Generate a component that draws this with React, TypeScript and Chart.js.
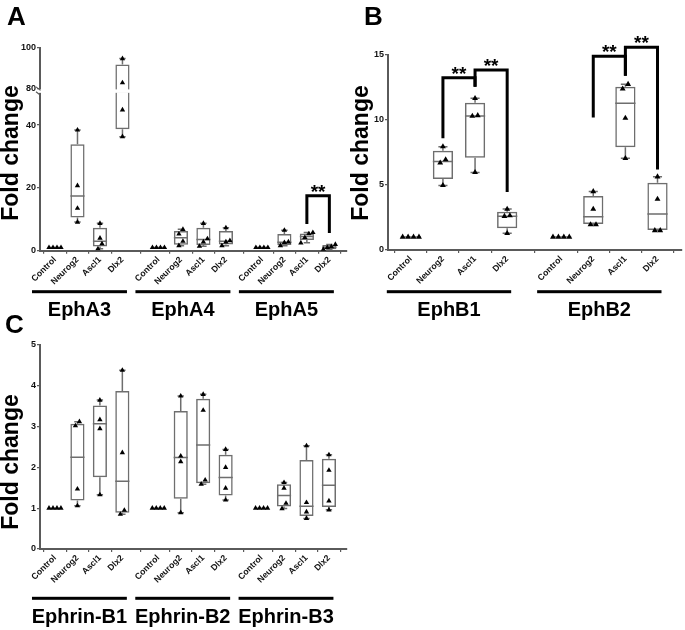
import React, { useEffect, useRef } from "react";
import { Chart, registerables } from "chart.js";
Chart.register(...registerables);

const FONT = "'Liberation Sans', Arial, Helvetica, sans-serif";
const BOX_COLOR = "#6e6e6e";
const AXIS_COLOR = "#5a5a5a";
const TEXT = "#111";

const CONDITIONS = ["Control", "Neurog2", "Ascl1", "Dlx2"];

// ---------- Panel A ----------
const A_GENES = ["EphA3", "EphA4", "EphA5"];
const A_Y_TICKS = [0, 20, 40, 80, 100];
// points per gene, per condition
const A_POINTS = [
  [[1, 1, 1, 1], [38.4, 20.7, 13.5, 9.1], [8.7, 4.0, 2.2, 0.6], [94.7, 83.0, 44.8, 36.3]],
  [[1, 1, 1, 1], [6.8, 5.3, 3.0, 1.6], [8.7, 3.8, 2.8, 1.4], [7.3, 3.2, 2.8, 1.6]],
  [[1, 1, 1, 1], [6.5, 2.8, 2.6, 1.6], [5.8, 5.4, 4.2, 2.5], [2.0, 1.3, 1.0, 0.4]],
];
// boxes: [min, q1, median, q3, max]
const A_BOXES = [
  [[1, 1, 1, 1, 1], [9.1, 10.6, 17.4, 33.9, 38.4], [0.6, 1.3, 3.0, 7.3, 8.7], [36.3, 38.7, 63.9, 91.8, 94.7]],
  [[1, 1, 1, 1, 1], [1.6, 1.9, 4.1, 6.3, 6.8], [1.4, 1.8, 3.6, 7.3, 8.7], [1.6, 2.0, 3.0, 6.3, 7.3]],
  [[1, 1, 1, 1, 1], [1.6, 1.8, 2.7, 5.3, 6.5], [2.5, 3.4, 4.5, 5.5, 5.8], [0.4, 0.5, 1.1, 1.8, 2.0]],
];
// significance brackets: gene, from condition, to condition, top, leg ends
const A_SIG = [{ gene: 2, from: 2, to: 3, top: 17.5, fromEnd: 8.5, toEnd: 5.6, label: "**" }];

// broken axis for panel A: 0-50 linear, gap, 80-100 compressed
const A_BREAK_LOW = 50;
const A_BREAK_HIGH = 80;
const A_UPPER_START = 51.5;
const A_UPPER_SCALE = 0.656;
function brkA(v: number) {
  if (v <= A_BREAK_LOW) return v;
  if (v >= A_BREAK_HIGH) return A_UPPER_START + (v - A_BREAK_HIGH) * A_UPPER_SCALE;
  return A_BREAK_LOW + ((v - A_BREAK_LOW) / (A_BREAK_HIGH - A_BREAK_LOW)) * (A_UPPER_START - A_BREAK_LOW);
}

// ---------- Panel B ----------
const B_GENES = ["EphB1", "EphB2"];
const B_Y_TICKS = [0, 5, 10, 15];
const B_POINTS = [
  [[1, 1, 1, 1], [7.95, 6.95, 6.7, 4.97], [11.67, 10.35, 10.3, 5.97], [3.15, 2.65, 2.6, 1.28]],
  [[1, 1, 1, 1], [4.5, 3.15, 1.95, 1.95], [12.75, 12.4, 10.15, 7.05], [5.64, 3.92, 1.5, 1.5]],
];
const B_BOXES = [
  [[1, 1, 1, 1, 1], [4.97, 5.46, 6.8, 7.64, 7.95], [5.97, 7.1, 10.3, 11.33, 11.67], [1.28, 1.67, 2.6, 2.95, 3.15]],
  [[1, 1, 1, 1, 1], [1.95, 2.0, 2.56, 4.15, 4.5], [7.05, 7.9, 11.28, 12.56, 12.75], [1.5, 1.54, 2.77, 5.18, 5.64]],
];
const B_SIG = [
  { gene: 0, from: 1, to: 2, top: 13.25, fromEnd: 8.6, toEnd: 12.56, label: "**" },
  { gene: 0, from: 2, to: 3, top: 13.85, fromEnd: 12.56, toEnd: 4.46, label: "**" },
  { gene: 1, from: 1, to: 2, top: 14.9, fromEnd: 10.2, toEnd: 13.4, label: "**" },
  { gene: 1, from: 2, to: 3, top: 15.6, fromEnd: 13.4, toEnd: 6.2, label: "**" },
];

// ---------- Panel C ----------
const C_GENES = ["Ephrin-B1", "Ephrin-B2", "Ephrin-B3"];
const C_Y_TICKS = [0, 1, 2, 3, 4, 5];
const C_POINTS = [
  [[1, 1, 1, 1], [3.12, 3.02, 1.47, 1.06], [3.65, 3.17, 2.95, 1.33], [4.38, 2.36, 0.95, 0.85]],
  [[1, 1, 1, 1], [3.75, 2.28, 2.14, 0.89], [3.79, 3.4, 1.69, 1.59], [2.44, 2.0, 1.49, 1.2]],
  [[1, 1, 1, 1], [1.63, 1.49, 1.12, 0.99], [2.53, 1.14, 0.91, 0.75], [2.31, 1.93, 1.18, 0.96]],
];
const C_BOXES = [
  [[1, 1, 1, 1, 1], [1.06, 1.19, 2.25, 3.07, 3.12], [1.33, 1.76, 3.07, 3.52, 3.65], [0.85, 0.89, 1.66, 3.87, 4.38]],
  [[1, 1, 1, 1, 1], [0.89, 1.23, 2.24, 3.38, 3.75], [1.59, 1.61, 2.55, 3.68, 3.79], [1.2, 1.31, 1.75, 2.31, 2.44]],
  [[1, 1, 1, 1, 1], [0.99, 1.04, 1.31, 1.59, 1.63], [0.75, 0.81, 1.05, 2.18, 2.53], [0.96, 1.03, 1.56, 2.21, 2.31]],
];
const C_SIG: Sig[] = [];

type Sig = { gene: number; from: number; to: number; top: number; fromEnd: number; toEnd: number; label: string };

type Panel = {
  id: string;
  letter: string;
  letterPos: [number, number];
  pos: [number, number];
  size: [number, number];
  area: { l: number; r: number; t: number; b: number };
  genes: string[];
  points: number[][][];
  boxes: number[][][];
  sig: Sig[];
  stride: number;
  xMin: number;
  xMax: number;
  yTicks: number[];
  tf: (v: number) => number;
  titlePos: [number, number];
  ulDy: number;
  labelDy: number;
  ulPre: number;
  ulPost: number;
  triR: number;
  spread: number;
  broken?: boolean;
};

const ident = (v: number) => v;

const PANELS: Panel[] = [
  {
    id: "A", letter: "A", letterPos: [7, 25], pos: [0, 0], size: [350, 330],
    area: { l: 40, r: 347, t: 47.7, b: 250.7 },
    genes: A_GENES, points: A_POINTS, boxes: A_BOXES, sig: A_SIG,
    stride: 4.6, xMin: -0.667, xMax: 12.98, yTicks: A_Y_TICKS, tf: brkA,
    titlePos: [11.5, 153], ulDy: 41, labelDy: 65, ulPre: 23, ulPost: 4.5,
    triR: 3.1, spread: 4, broken: true,
  },
  {
    id: "B", letter: "B", letterPos: [14, 25], pos: [350, 0], size: [335, 330],
    area: { l: 38, r: 335, t: 55, b: 250 },
    genes: B_GENES, points: B_POINTS, boxes: B_BOXES, sig: B_SIG,
    stride: 4.68, xMin: -0.71, xMax: 8.43, yTicks: B_Y_TICKS, tf: ident,
    titlePos: [12, 153], ulDy: 41.7, labelDy: 66, ulPre: 24, ulPost: 4,
    triR: 3.4, spread: 5.5,
  },
  {
    id: "C", letter: "C", letterPos: [5, 33], pos: [0, 300], size: [350, 330],
    area: { l: 40, r: 347.7, t: 45, b: 249 },
    genes: C_GENES, points: C_POINTS, boxes: C_BOXES, sig: C_SIG,
    stride: 4.6, xMin: -0.667, xMax: 13.0, yTicks: C_Y_TICKS, tf: ident,
    titlePos: [11.5, 162], ulDy: 49.3, labelDy: 73.5, ulPre: 23, ulPost: 4.5,
    triR: 3.1, spread: 4,
  },
];

function jitterPx(vals: number[], pxPerUnit: number, spacing: number): number[] {
  const idx = vals.map((_, i) => i).sort((a, b) => vals[a] - vals[b]);
  const off = new Array(vals.length).fill(0);
  let cluster: number[] = [idx[0]];
  const flush = () => {
    const n = cluster.length;
    cluster.forEach((k, j) => (off[k] = (j - (n - 1) / 2) * spacing));
  };
  for (let i = 1; i < idx.length; i++) {
    if ((vals[idx[i]] - vals[idx[i - 1]]) * pxPerUnit < 5.5) cluster.push(idx[i]);
    else {
      flush();
      cluster = [idx[i]];
    }
  }
  flush();
  return off;
}

function makePlugin(p: Panel) {
  return {
    id: "extras" + p.id,
    afterDatasetDraw(chart: any, args: any) {
      if (args.meta.type !== "bar") return;
      const { ctx } = chart;
      const x = chart.scales.x;
      const y = chart.scales.y;
      ctx.save();
      ctx.strokeStyle = BOX_COLOR;
      ctx.lineWidth = 1.5;
      p.boxes.forEach((gb, gi) =>
        gb.forEach((b, ci) => {
          const bar = args.meta.data[gi * CONDITIONS.length + ci];
          const hw = bar.width / 2;
          const cx = x.getPixelForValue(gi * p.stride + ci);
          const [mn, q1, md, q3, mx] = b.map((v) => y.getPixelForValue(p.tf(v)));
          const cap = hw * 0.45;
          ctx.beginPath();
          ctx.moveTo(cx, q3);
          ctx.lineTo(cx, mx);
          ctx.moveTo(cx - cap, mx);
          ctx.lineTo(cx + cap, mx);
          ctx.moveTo(cx, q1);
          ctx.lineTo(cx, mn);
          ctx.moveTo(cx - cap, mn);
          ctx.lineTo(cx + cap, mn);
          ctx.moveTo(cx - hw, md);
          ctx.lineTo(cx + hw, md);
          ctx.stroke();
        })
      );
      ctx.restore();
    },
    afterDatasetsDraw(chart: any) {
      if (!p.broken) return;
      const { ctx, chartArea } = chart;
      const y = chart.scales.y;
      const yHi = y.getPixelForValue(A_UPPER_START - 0.15);
      const yLo = y.getPixelForValue(A_BREAK_LOW + 0.25);
      ctx.save();
      ctx.fillStyle = "#fff";
      ctx.fillRect(chartArea.left - 1.5, yHi, chartArea.right - chartArea.left + 1.5, yLo - yHi);
      ctx.strokeStyle = AXIS_COLOR;
      ctx.lineWidth = 1.2;
      ctx.beginPath();
      ctx.moveTo(chartArea.left - 4, yHi - 2.5);
      ctx.lineTo(chartArea.left + 0.5, yHi + 1);
      ctx.moveTo(chartArea.left - 4, yLo - 1);
      ctx.lineTo(chartArea.left + 0.5, yLo + 2.5);
      ctx.stroke();
      ctx.restore();
    },
    afterDraw(chart: any) {
      const { ctx, chartArea } = chart;
      const x = chart.scales.x;
      const y = chart.scales.y;
      ctx.save();
      // significance brackets
      ctx.strokeStyle = "#000";
      ctx.lineWidth = 3;
      ctx.lineJoin = "miter";
      p.sig.forEach((s) => {
        const xa = x.getPixelForValue(s.gene * p.stride + s.from);
        const xb = x.getPixelForValue(s.gene * p.stride + s.to);
        const yt = y.getPixelForValue(p.tf(s.top));
        ctx.beginPath();
        ctx.moveTo(xa, y.getPixelForValue(p.tf(s.fromEnd)));
        ctx.lineTo(xa, yt);
        ctx.lineTo(xb, yt);
        ctx.lineTo(xb, y.getPixelForValue(p.tf(s.toEnd)));
        ctx.stroke();
        ctx.fillStyle = "#000";
        ctx.font = `bold 19px ${FONT}`;
        ctx.textAlign = "center";
        ctx.textBaseline = "alphabetic";
        ctx.fillText(s.label, (xa + xb) / 2, yt + 2);
      });
      // gene underlines and labels
      p.genes.forEach((g, gi) => {
        const x0 = x.getPixelForValue(gi * p.stride) - p.ulPre;
        const x1 = x.getPixelForValue(gi * p.stride + CONDITIONS.length - 1) + p.ulPost;
        ctx.fillStyle = "#000";
        ctx.fillRect(x0, chartArea.bottom + p.ulDy - 1.5, x1 - x0, 3);
        ctx.font = `bold 20px ${FONT}`;
        ctx.textAlign = "center";
        ctx.textBaseline = "alphabetic";
        ctx.fillText(g, (x0 + x1) / 2, chartArea.bottom + p.labelDy);
      });
      // y title
      ctx.save();
      ctx.translate(p.titlePos[0], p.titlePos[1]);
      ctx.rotate(-Math.PI / 2);
      ctx.font = `bold 23px ${FONT}`;
      ctx.textAlign = "center";
      ctx.textBaseline = "middle";
      ctx.fillStyle = "#000";
      ctx.fillText("Fold change", 0, 0);
      ctx.restore();
      // panel letter
      ctx.font = `bold 26px ${FONT}`;
      ctx.textAlign = "left";
      ctx.textBaseline = "alphabetic";
      ctx.fillStyle = "#000";
      ctx.fillText(p.letter, p.letterPos[0], p.letterPos[1]);
      ctx.restore();
    },
  };
}

function buildConfig(p: Panel): any {
  const [W, H] = p.size;
  const positions: number[] = [];
  const labels: string[] = [];
  const barData: any[] = [];
  const scatterData: any[] = [];
  const yMax = p.tf(p.yTicks[p.yTicks.length - 1]);
  const pxPerX = (p.area.r - p.area.l) / (p.xMax - p.xMin);
  const pxPerY = (p.area.b - p.area.t) / yMax;
  p.genes.forEach((_, gi) =>
    CONDITIONS.forEach((c, ci) => {
      const xv = gi * p.stride + ci;
      positions.push(xv);
      labels.push(c);
      const b = p.boxes[gi][ci].map(p.tf);
      barData.push({ x: xv, y: [b[1], b[3]] });
      const vals = p.points[gi][ci].map(p.tf);
      const offs = jitterPx(vals, pxPerY, p.spread);
      vals.forEach((v, k) => scatterData.push({ x: xv + offs[k] / pxPerX, y: v }));
    })
  );
  const tickFont = { family: FONT, size: 9, weight: "bold" as const };
  const gridCfg = { display: true, drawOnChartArea: false, drawTicks: true, tickLength: 3, color: AXIS_COLOR, lineWidth: 1.2 };
  return {
    type: "bar",
    data: {
      datasets: [
        {
          type: "scatter",
          data: scatterData,
          order: 1,
          pointStyle: "triangle",
          pointRadius: p.triR,
          pointHoverRadius: p.triR,
          backgroundColor: "#000",
          borderColor: "#000",
          borderWidth: 0,
          showLine: false,
        },
        {
          type: "bar",
          data: barData,
          order: 2,
          backgroundColor: "rgba(255,255,255,0)",
          borderColor: BOX_COLOR,
          borderWidth: 1.5,
          borderSkipped: false,
          barPercentage: 0.63,
          categoryPercentage: 1,
        },
      ],
    },
    options: {
      responsive: false,
      animation: false,
      events: [],
      layout: { padding: { left: 0, top: p.area.t, right: W - p.area.r, bottom: 0 } },
      plugins: { legend: { display: false }, tooltip: { enabled: false } },
      scales: {
        x: {
          type: "linear",
          min: p.xMin,
          max: p.xMax,
          offset: false,
          afterFit: (s: any) => {
            s.height = H - p.area.b;
          },
          afterBuildTicks: (s: any) => {
            s.ticks = positions.map((v) => ({ value: v }));
          },
          ticks: {
            autoSkip: false,
            minRotation: 45,
            maxRotation: 45,
            padding: 1,
            color: TEXT,
            font: { family: FONT, size: 8.7, weight: "bold" },
            callback: (_v: any, i: number) => labels[i],
          },
          grid: gridCfg,
          border: { display: true, color: AXIS_COLOR, width: 2 },
        },
        y: {
          type: "linear",
          min: 0,
          max: yMax,
          afterFit: (s: any) => {
            s.width = p.area.l;
          },
          afterBuildTicks: (s: any) => {
            s.ticks = p.yTicks.map((v) => ({ value: p.tf(v) }));
          },
          ticks: {
            padding: 1,
            color: TEXT,
            font: tickFont,
            callback: (_v: any, i: number) => String(p.yTicks[i]),
          },
          grid: gridCfg,
          border: { display: true, color: AXIS_COLOR, width: 2 },
        },
      },
    },
    plugins: [makePlugin(p)],
  };
}

function PanelChart({ p }: { p: Panel }) {
  const ref = useRef<HTMLCanvasElement | null>(null);
  useEffect(() => {
    if (!ref.current) return;
    const chart = new Chart(ref.current, buildConfig(p));
    return () => chart.destroy();
  }, [p]);
  return (
    <canvas
      ref={ref}
      width={p.size[0]}
      height={p.size[1]}
      style={{ position: "absolute", left: p.pos[0], top: p.pos[1], width: p.size[0], height: p.size[1] }}
    />
  );
}

export default function App() {
  return (
    <div style={{ position: "absolute", left: 0, top: 0, width: 685, height: 630, background: "#fff", overflow: "hidden" }}>
      {PANELS.map((p) => (
        <PanelChart key={p.id} p={p} />
      ))}
    </div>
  );
}
